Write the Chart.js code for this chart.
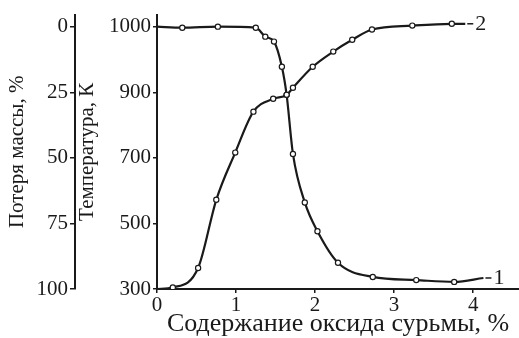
<!DOCTYPE html>
<html lang="ru">
<head>
<meta charset="utf-8">
<title>Потеря массы и температура</title>
<script src="https://cdn.jsdelivr.net/npm/chart.js@4.4.1/dist/chart.umd.min.js"></script>
<style>
  html, body { margin: 0; padding: 0; background: #fff; }
  #chart { display: block; }
</style>
</head>
<body>
<canvas id="chart" width="519" height="338"></canvas>
<script>
// Данные (y в единицах оси "Потеря массы, %")
const curve1X = [0, 0.32, 0.77, 1.25, 1.37, 1.48, 1.58, 1.64, 1.72, 1.87, 2.03, 2.29, 2.73, 3.28, 3.76, 4.13];
const curve1Y = [0, 0.4, 0, 0.4, 3.8, 5.7, 15.3, 26, 48.5, 67, 78, 90, 95.4, 96.6, 97.3, 95.8];

const curve2X = [0, 0.2, 0.52, 0.75, 0.99, 1.22, 1.47, 1.64, 1.72, 1.97, 2.23, 2.47, 2.72, 3.23, 3.73, 3.9];
const curve2Y = [100, 99.4, 92, 66, 48, 32.4, 27.5, 26, 23.3, 15.3, 9.5, 5, 1.1, -0.4, -1.1, -1.1];

const xTicks = [0, 1, 2, 3, 4];
const massTicks = [0, 25, 50, 75, 100];
const tempLabels = ['1000', '900', '700', '500', '300'];
const curveNames = ['1', '2'];

const serif = '"Liberation Serif", "DejaVu Serif", serif';
const ink = '#1a1a1a';

function toPoints(xs, ys) {
    return xs.map((x, i) => ({ x: x, y: ys[i] }));
}

// Маркеры только на промежуточных точках
function markerRadius(ctx) {
    const n = ctx.dataset.data.length;
    return (ctx.dataIndex === 0 || ctx.dataIndex === n - 1) ? 0 : 2.6;
}

function lineDataset(xs, ys) {
    return {
        data: toPoints(xs, ys),
        yAxisID: 'yMass',
        borderColor: ink,
        borderWidth: 2.2,
        pointRadius: markerRadius,
        pointBackgroundColor: '#fff',
        pointBorderColor: ink,
        pointBorderWidth: 1.2,
        cubicInterpolationMode: 'monotone',
        fill: false
    };
}

// Подписи "1" и "2" у концов кривых
const curveLabels = {
    id: 'curveLabels',
    afterDatasetsDraw(chart) {
        const ctx = chart.ctx;
        const xs = chart.scales.x;
        const ys = chart.scales.yMass;
        ctx.save();
        ctx.fillStyle = ink;
        ctx.strokeStyle = ink;
        ctx.lineWidth = 1.5;
        ctx.font = '22px ' + serif;
        ctx.textBaseline = 'middle';
        chart.data.datasets.forEach((ds, i) => {
            const last = ds.data[ds.data.length - 1];
            const px = xs.getPixelForValue(last.x);
            const py = ys.getPixelForValue(last.y);
            ctx.beginPath();
            ctx.moveTo(px + 2, py);
            ctx.lineTo(px + 8, py);
            ctx.stroke();
            ctx.fillText(curveNames[i], px + 10, py);
        });
        ctx.restore();
    }
};

const fixedTicks = (values) => (scale) => {
    scale.ticks = values.map(v => ({ value: v }));
};

new Chart(document.getElementById('chart'), {
    type: 'line',
    data: {
        datasets: [
            lineDataset(curve1X, curve1Y),
            lineDataset(curve2X, curve2Y)
        ]
    },
    options: {
        responsive: false,
        animation: false,
        layout: { padding: 0 },
        plugins: {
            legend: { display: false },
            tooltip: { enabled: false }
        },
        scales: {
            x: {
                type: 'linear',
                position: 'bottom',
                min: 0,
                max: 4.58,
                afterBuildTicks: fixedTicks(xTicks),
                afterFit: (s) => { s.height = 49; },
                grid: { drawOnChartArea: false, tickLength: 4, color: ink, lineWidth: 1.5 },
                border: { color: ink, width: 2 },
                ticks: { color: ink, font: { family: serif, size: 21 }, padding: 0, maxRotation: 0 },
                title: {
                    display: true,
                    text: 'Содержание оксида сурьмы, %',
                    color: ink,
                    font: { family: serif, size: 26 },
                    padding: { top: 0, bottom: -2 }
                }
            },
            yMass: {
                type: 'linear',
                position: 'left',
                weight: 10,
                reverse: true,
                min: -4.6,
                max: 100,
                afterBuildTicks: fixedTicks(massTicks),
                afterFit: (s) => { s.width = 75; },
                grid: { drawOnChartArea: false, tickLength: 5, color: ink, lineWidth: 1.5 },
                border: { color: ink, width: 2 },
                ticks: { color: ink, font: { family: serif, size: 21 }, padding: 2 },
                title: {
                    display: true,
                    text: 'Потеря массы, %',
                    color: ink,
                    font: { family: serif, size: 21 },
                    padding: { top: 5, bottom: 0 }
                }
            },
            yTemp: {
                type: 'linear',
                position: 'left',
                weight: 0,
                reverse: true,
                min: -4.6,
                max: 100,
                afterBuildTicks: fixedTicks(massTicks),
                afterFit: (s) => { s.width = 82; },
                grid: { drawOnChartArea: false, tickLength: 4, color: ink, lineWidth: 1.5 },
                border: { color: ink, width: 2 },
                ticks: {
                    color: ink,
                    font: { family: serif, size: 21 },
                    padding: 2,
                    callback: (v) => tempLabels[massTicks.indexOf(v)]
                },
                title: {
                    display: true,
                    text: 'Температура, К',
                    color: ink,
                    font: { family: serif, size: 21 },
                    padding: { top: 0, bottom: 0 }
                }
            }
        }
    },
    plugins: [curveLabels]
});
</script>
</body>
</html>
